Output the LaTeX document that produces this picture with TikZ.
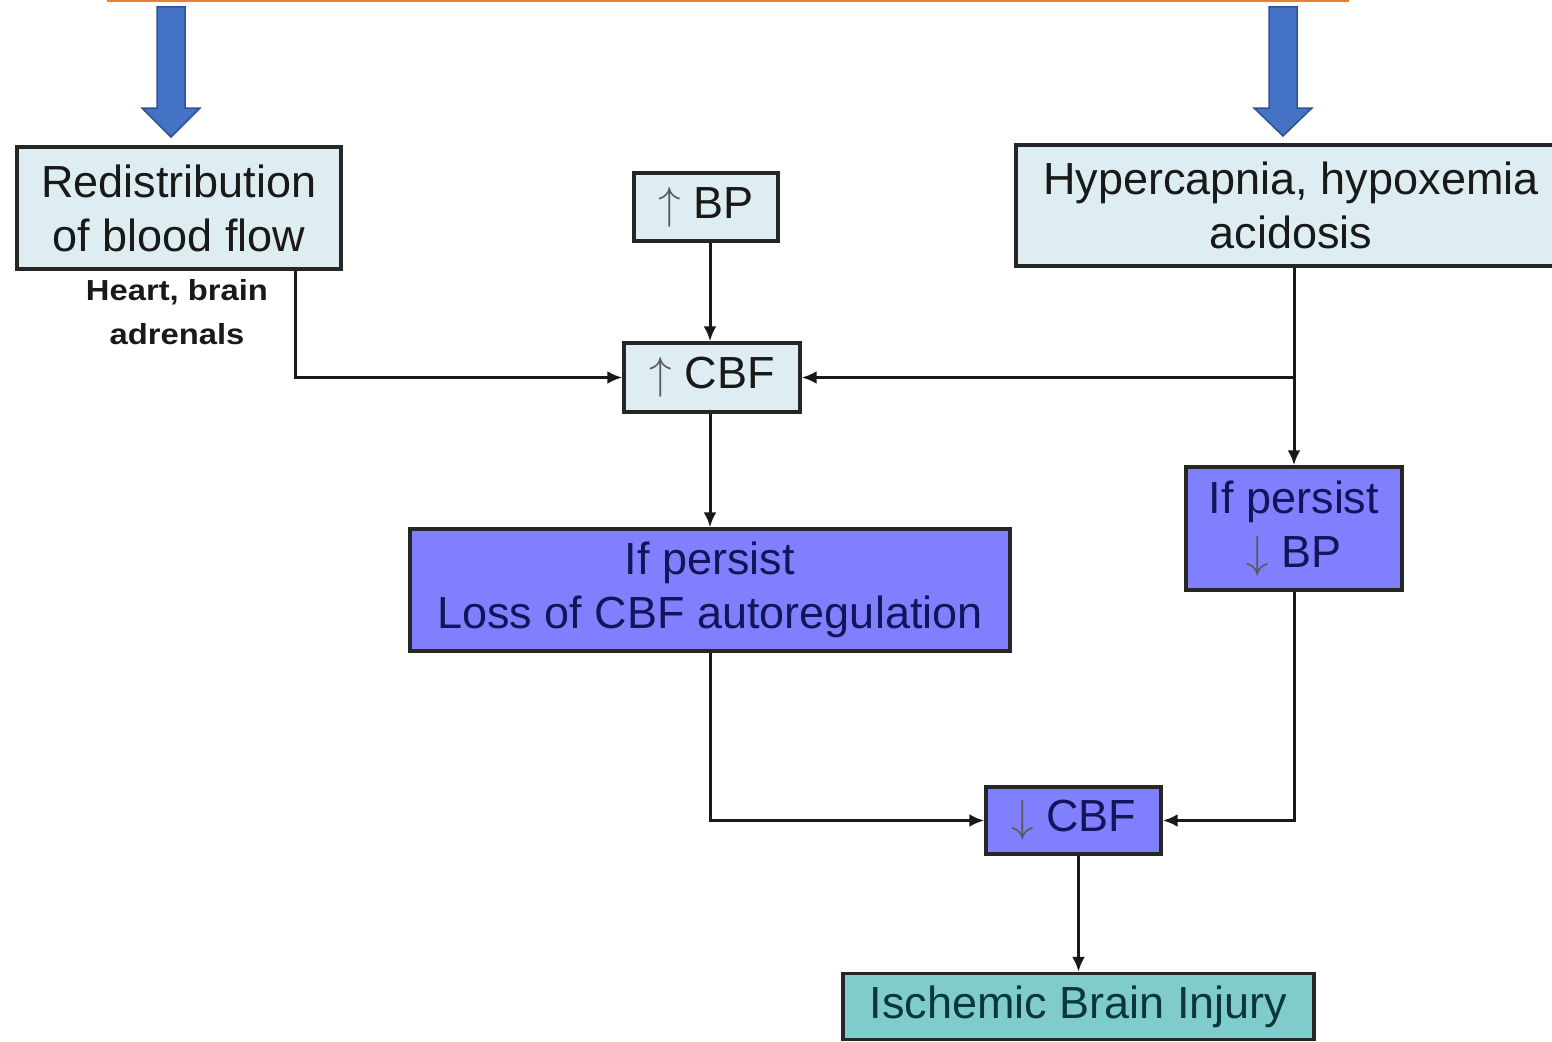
\RequirePackage{fix-cm}
\documentclass[tikz,border=0pt]{standalone}
\usepackage{fontspec}
\setmainfont{Liberation Sans}
\newfontfamily\notefont[FakeStretch=1.13]{Liberation Sans}
\usetikzlibrary{arrows.meta}

\definecolor{boxlight}{RGB}{221,237,241}
\definecolor{boxviolet}{RGB}{128,128,255}
\definecolor{boxteal}{RGB}{128,204,204}
\definecolor{inkviolet}{RGB}{20,20,90}
\definecolor{inkteal}{RGB}{10,55,60}
\definecolor{blockblue}{RGB}{68,114,196}
\definecolor{blockedge}{RGB}{47,82,143}
\definecolor{topline}{RGB}{237,125,49}
\newcommand{\up}{{\color{black!65}$\uparrow$}}
\newcommand{\down}{{\color{black!65}$\downarrow$}}

\begin{document}
\begin{tikzpicture}[x=1pt,y=-1pt,
  box/.style={draw=black!85, line width=3.4pt, inner sep=0pt, align=center,
    font=\fontsize{45}{54}\selectfont},
  lightbox/.style={box, fill=boxlight, text=black!90},
  violetbox/.style={box, fill=boxviolet, text=inkviolet},
  tealbox/.style={box, fill=boxteal, text=inkteal},
  conn/.style={line width=3pt, draw=black!90, -{Latex[length=15pt,width=13pt]}},
  blockarrow/.style={fill=blockblue, draw=blockedge, line width=1.5pt, line join=miter},
]
\useasboundingbox (0,0) rectangle (1552,1041);

% header rule and the two block arrows
\draw[topline, line width=3pt] (107,1) -- (1349,1);
\draw[blockarrow] (157,7) -- (185,7) -- (185,108) -- (200,108) -- (171,137)
  -- (142,108) -- (157,108) -- cycle;
\draw[blockarrow] (1269,7) -- (1297,7) -- (1297,108) -- (1312,108) -- (1283,136)
  -- (1254,108) -- (1269,108) -- cycle;

% boxes
\node[lightbox, minimum width=324pt, minimum height=122pt] (redist) at (179,208)
  {Redistribution\\of blood flow};
\node[font=\notefont\bfseries\fontsize{29}{43.5}\selectfont, align=center, text=black!90,
  inner sep=0pt] (note) at (177,312) {Heart, brain\\adrenals};
\node[lightbox, minimum width=144pt, minimum height=68pt] (bp) at (706,207) {\up\ BP};
\node[lightbox, minimum width=550pt, minimum height=121pt] (hyper) at (1291,205.5)
  {Hypercapnia, hypoxemia\\acidosis};
\node[lightbox, minimum width=176pt, minimum height=69pt] (cbf) at (712,377.5) {\up\ CBF};
\node[violetbox, minimum width=216pt, minimum height=123pt] (bp2) at (1294,528.5)
  {If persist\\\down\ BP};
\node[violetbox, minimum width=600pt, minimum height=122pt] (loss) at (710,590)
  {If persist\\Loss of CBF autoregulation};
\node[violetbox, minimum width=175pt, minimum height=67pt] (dcbf) at (1073.5,820.5)
  {\down\ CBF};
\node[tealbox, minimum width=471pt, minimum height=66pt] (isch) at (1078.5,1006.5)
  {Ischemic Brain Injury};

% connectors
\draw[conn] ([xshift=116pt]redist.south) |- (cbf.west);
\draw[conn] ([xshift=4pt]bp.south) -- ([xshift=4pt]bp.south |- cbf.north);
\draw[conn] (hyper.south -| bp2.north) -- (bp2.north);
\draw[conn] (hyper.south -| bp2.north) |- (cbf.east);
\draw[conn] (loss.north |- cbf.south) -- (loss.north);
\draw[conn] (loss.south) |- (dcbf.west);
\draw[conn] (bp2.south) |- (dcbf.east);
\draw[conn] (isch.north |- dcbf.south) -- (isch.north);
\end{tikzpicture}
\end{document}
